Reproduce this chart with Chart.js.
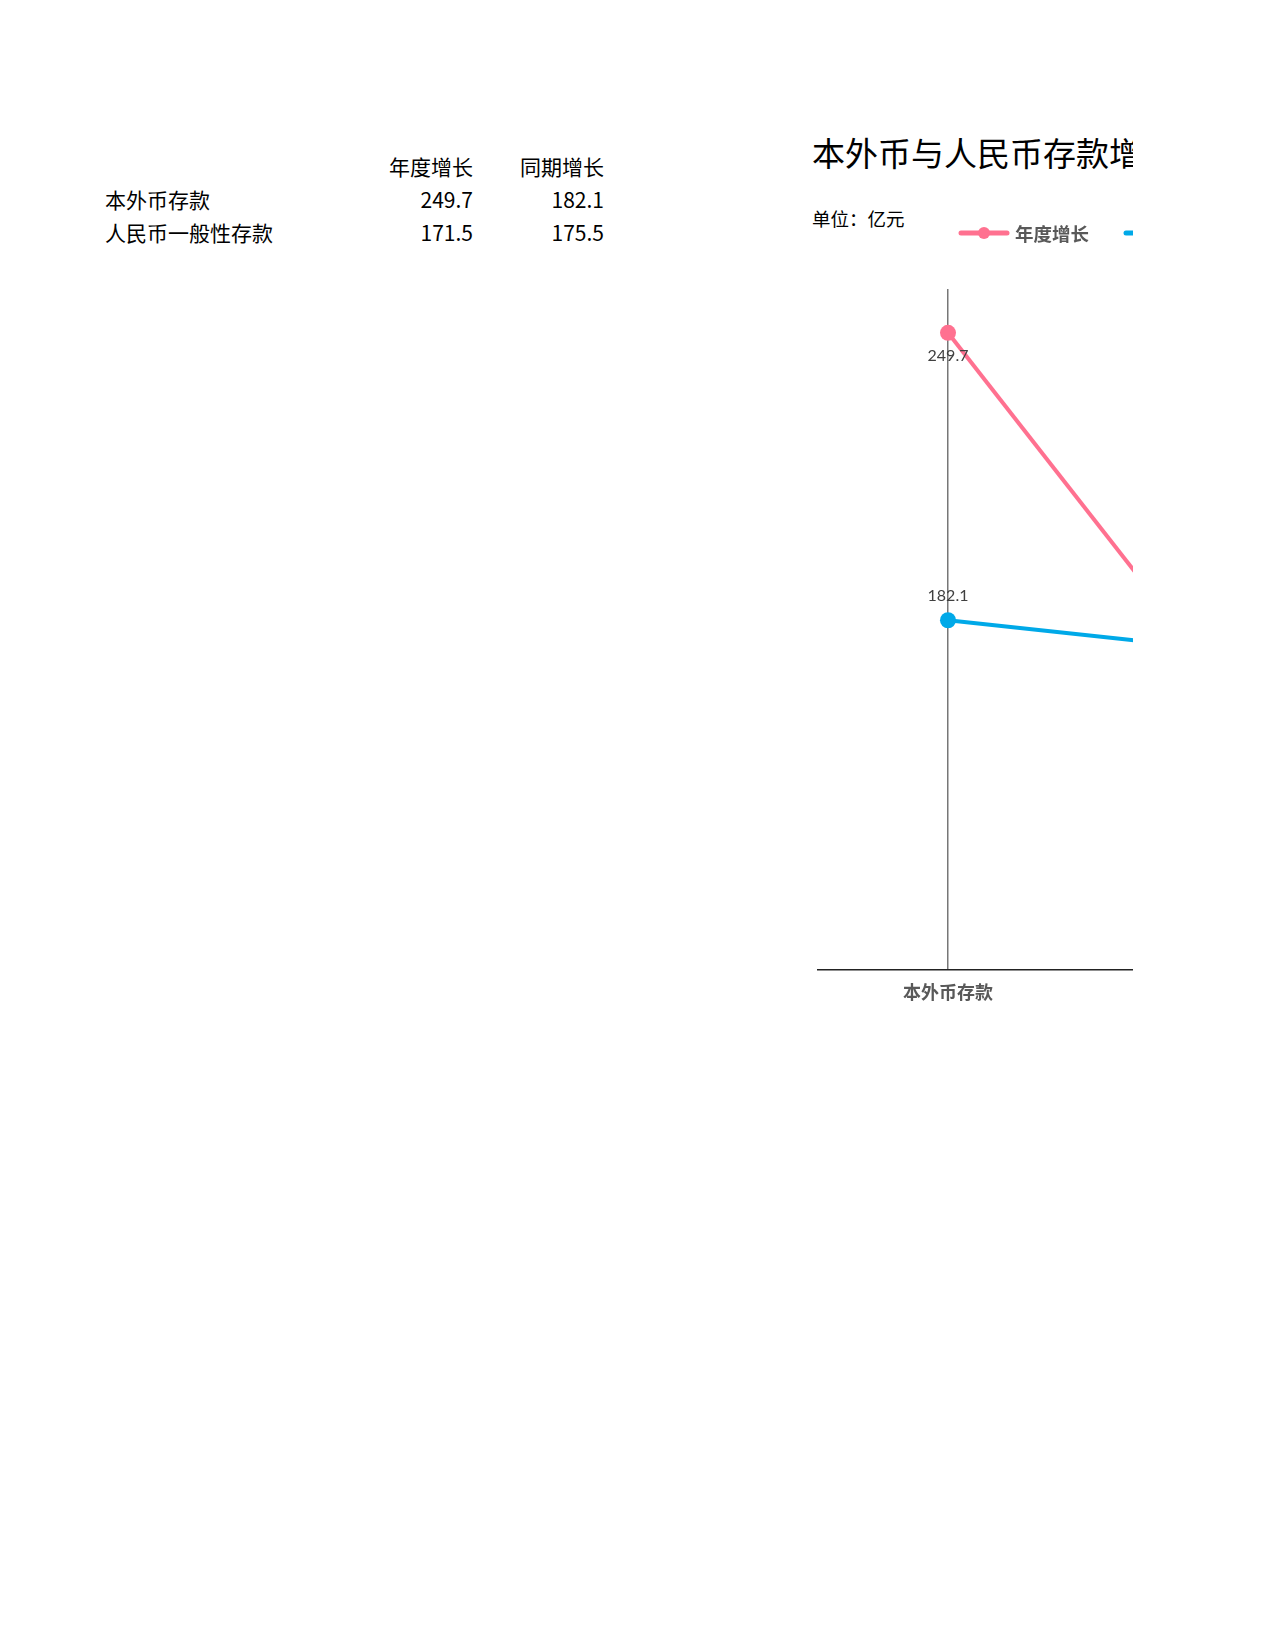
<!DOCTYPE html>
<html lang="zh-CN">
<head>
<meta charset="utf-8">
<script src="https://cdn.jsdelivr.net/npm/chart.js@4/dist/chart.umd.min.js"></script>
<style>
  html, body { margin:0; padding:0; background:#fff; }
  body { width:1275px; height:1650px; position:relative; font-family:"Noto Sans CJK SC","Noto Sans",sans-serif; color:#000; }
  #tbl { position:absolute; left:105px; top:150px; border-collapse:collapse; font-size:21px; }
  #tbl td, #tbl th { padding:0; height:33px; line-height:33px; font-weight:normal; white-space:nowrap; }
  #tbl .num { text-align:right; }
  #chart-wrap { position:absolute; left:800px; top:100px; width:333px; height:960px; overflow:hidden; }
  #chart-title { position:absolute; left:12px; top:30px; font-size:33px; line-height:44px; white-space:nowrap; }
  #chart-unit { position:absolute; left:12px; top:105px; font-size:18.5px; line-height:26px; white-space:nowrap; }
  #chart-annual { position:absolute; left:0; top:0; }
</style>
</head>
<body>
<table id="tbl"></table>
<div id="chart-wrap">
  <div id="chart-title">本外币与人民币存款增长</div>
  <div id="chart-unit">单位：亿元</div>
  <canvas id="chart-annual" width="600" height="931"></canvas>
</div>
<script>
'use strict';

const categories = ['本外币存款', '人民币一般性存款'];
const seriesNames = ['年度增长', '同期增长'];
const annualGrowth = [249.7, 171.5];
const samePeriodGrowth = [182.1, 175.5];
const seriesColors = ['#FF7190', '#00A9E8'];

const $ = id => document.getElementById(id);

// tabela de origem
function renderTable() {
  const cols = [annualGrowth, samePeriodGrowth];
  let html = '<tr><td style="width:265px;"></td>' +
    seriesNames.map(n => `<td class="num" style="width:${n === seriesNames[0] ? 103 : 131}px;">${n}</td>`).join('') + '</tr>';
  categories.forEach((c, i) => {
    html += `<tr><td>${c}</td>` + cols.map(col => `<td class="num">${col[i].toFixed(1)}</td>`).join('') + '</tr>';
  });
  $('tbl').innerHTML = html;
}
renderTable();

// legenda desenhada à mão: linha + bolinha
const lineLegend = {
  id: 'lineLegend',
  afterDraw(chart) {
    const ctx = chart.ctx;
    let x = 159; const y = 133;
    ctx.save();
    ctx.font = 'bold 18.5px "Noto Sans CJK SC"';
    ctx.textBaseline = 'middle';
    chart.data.datasets.forEach(ds => {
      ctx.strokeStyle = ds.borderColor; ctx.lineWidth = 5; ctx.lineCap = 'round';
      ctx.beginPath(); ctx.moveTo(x + 2, y); ctx.lineTo(x + 48, y); ctx.stroke();
      ctx.fillStyle = ds.borderColor;
      ctx.beginPath(); ctx.arc(x + 25, y, 6, 0, Math.PI * 2); ctx.fill();
      ctx.fillStyle = '#595959';
      ctx.fillText(ds.label, x + 56, y + 1);
      x += 56 + ctx.measureText(ds.label).width + 35;
    });
    ctx.restore();
  }
};

// rótulos de valor: primeira série embaixo, segunda em cima
const valueLabels = {
  id: 'valueLabels',
  afterDatasetsDraw(chart) {
    const ctx = chart.ctx;
    ctx.save();
    ctx.font = '16px Lato';
    ctx.fillStyle = '#404040';
    ctx.textAlign = 'center';
    ctx.textBaseline = 'middle';
    chart.data.datasets.forEach((ds, di) => {
      chart.getDatasetMeta(di).data.forEach((pt, i) => {
        const dy = di === 0 ? 23 : -24;
        ctx.fillText(ds.data[i].toFixed(1), pt.x, pt.y + dy);
      });
    });
    ctx.restore();
  }
};

new Chart($('chart-annual').getContext('2d'), {
  type: 'line',
  data: {
    labels: categories,
    datasets: [
      { label: seriesNames[0], data: annualGrowth, borderColor: seriesColors[0], backgroundColor: seriesColors[0],
        borderWidth: 4, pointRadius: 8, pointHoverRadius: 8, pointBorderWidth: 0 },
      { label: seriesNames[1], data: samePeriodGrowth, borderColor: seriesColors[1], backgroundColor: seriesColors[1],
        borderWidth: 4, pointRadius: 8, pointHoverRadius: 8, pointBorderWidth: 0 }
    ]
  },
  options: {
    responsive: false,
    animation: false,
    layout: { padding: { left: 18, right: 62, top: 189, bottom: 16 } },
    plugins: { legend: { display: false }, tooltip: { enabled: false } },
    scales: {
      x: {
        offset: true,
        grid: { display: true, color: '#777', lineWidth: 1.5, drawTicks: false },
        border: { display: true, color: '#222', width: 1.5 },
        ticks: { color: '#595959', padding: 12, font: { family: '"Noto Sans CJK SC"', size: 18, weight: 'bold' } }
      },
      y: { display: false, min: 100, max: 260 }
    }
  },
  plugins: [lineLegend, valueLabels]
});
</script>
</body>
</html>
